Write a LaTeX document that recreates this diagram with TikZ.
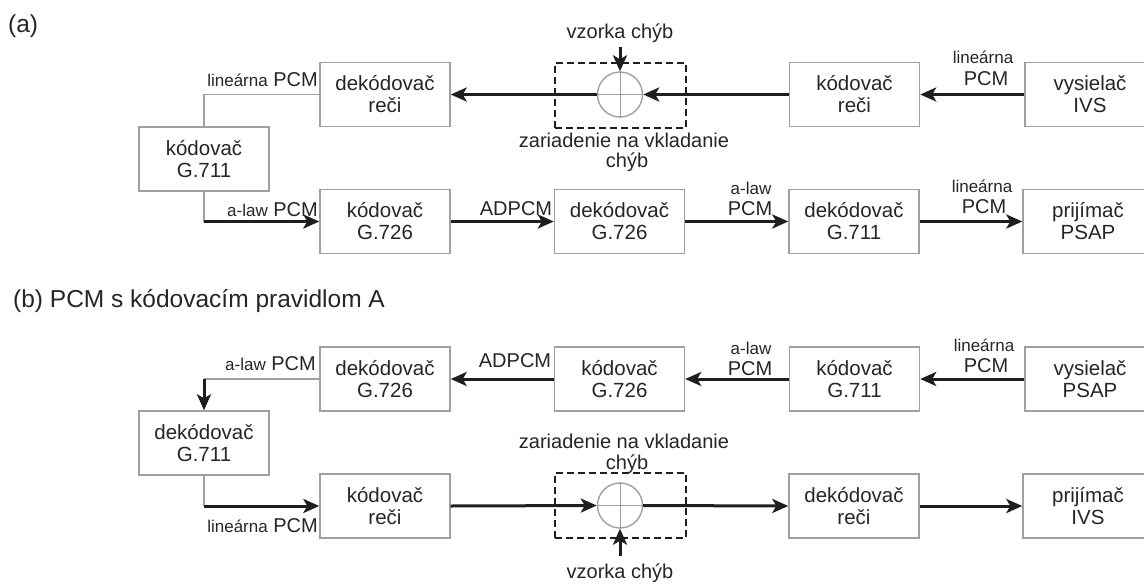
\documentclass[tikz,border=0pt]{standalone}
\usepackage{fontspec}
\setmainfont{Liberation Sans}
\usetikzlibrary{arrows.meta}
\definecolor{txt}{HTML}{262626}
\definecolor{bord}{HTML}{A0A0A0}
\definecolor{ink}{HTML}{1E1E1E}
\begin{document}
\begin{tikzpicture}[x=1pt,y=-1pt,
 blk/.style={draw=bord, line width=1.4pt, minimum width=130pt, minimum height=64pt, align=center, inner sep=0pt, font=\fontsize{20.5}{22}\selectfont, text=txt},
 flow/.style={line width=3pt, draw=ink, -{Stealth[length=16pt,width=14pt,inset=4pt]}},
 wire/.style={draw=bord, line width=1.4pt},
 sl/.style={font=\fontsize{17}{19}\selectfont, text=txt, inner sep=0pt, anchor=base},
 bl/.style={font=\fontsize{20}{21}\selectfont, text=txt, inner sep=0pt, anchor=base},
 capt/.style={font=\fontsize{24.5}{27}\selectfont, text=txt, inner sep=0pt, anchor=base west},
 summ/.style={circle, draw=bord, line width=1.4pt, minimum size=45pt, inner sep=0pt},
 errbox/.style={draw=ink, dash pattern=on 7pt off 4pt, line width=2.2pt, minimum width=131pt, minimum height=65pt, inner sep=0pt},
]
\useasboundingbox (0,0) rectangle (1144,584);
\clip (0,0) rectangle (1144,584);
\fill[white] (0,0) rectangle (1144,584);

% ---------- (a) ----------
\node[capt] (capa) at (8,32) {(a)};
\node[blk] (dekR1) at (385,94.5) {dekódovač\\reči};
\node[blk] (kodR1) at (854.5,94.5) {kódovač\\reči};
\node[blk] (vysIVS) at (1090,94.5) {vysielač\\IVS};
\node[blk] (G711a) at (204,159) {kódovač\\G.711};
\node[blk] (kodG726) at (385,221.5) {kódovač\\G.726};
\node[blk] (dekG726) at (619.5,221.5) {dekódovač\\G.726};
\node[blk] (dekG711) at (854,221.5) {dekódovač\\G.711};
\node[blk] (prijPSAP) at (1088,221.5) {prijímač\\PSAP};
\node[errbox] (err1) at (620.5,95.5) {};
\node[summ] (circ1) at (620,94.5) {};
\draw[wire, line width=0.9pt] (circ1.north) -- (circ1.south) (circ1.west) -- (circ1.east);
\node[bl] (vz1) at (620,38) {vzorka chýb};
\node[bl] (zar1) at (624,147) {zariadenie na vkladanie};
\node[bl] (zar1b) at (627,167) {chýb};

\draw[flow] (vysIVS.west) -- (kodR1.east);
\draw[flow] (kodR1.west) -- (circ1.east);
\draw[flow] (circ1.west) -- (dekR1.east);
\draw[flow, shorten <=5pt] (vz1.south) -- (circ1.north);
\draw[wire] (dekR1.west) -| (G711a.north);
\coordinate (ja) at (G711a.south |- kodG726.west);
\draw[wire] (G711a.south) -- (ja);
\draw[flow] (ja) -- (kodG726.west);
\draw[flow] (kodG726.east) -- (dekG726.west);
\draw[flow] (dekG726.east) -- (dekG711.west);
\draw[flow] (dekG711.east) -- (prijPSAP.west);

\node[bl, anchor=base east] (la1) at (318,86) {{\fontsize{17}{19}\selectfont lineárna} PCM};
\node[bl, anchor=base east] (la2) at (318,216) {{\fontsize{17}{19}\selectfont a-law} PCM};
\node[bl] (la3) at (516,215) {ADPCM};
\node[sl] (la4) at (751,194) {a-law};
\node[bl] (la5) at (750,215) {PCM};
\node[sl] (la6) at (982,192) {lineárna};
\node[bl] (la7) at (984,213) {PCM};
\node[sl] (la8) at (983,63) {lineárna};
\node[bl] (la9) at (986,85) {PCM};

% ---------- (b) ----------
\node[capt] (capb) at (13,307) {(b) PCM s kódovacím pravidlom A};
\node[blk] (dekG726b) at (385,379) {dekódovač\\G.726};
\node[blk] (kodG726b) at (619.5,379) {kódovač\\G.726};
\node[blk] (kodG711b) at (854.5,379) {kódovač\\G.711};
\node[blk] (vysPSAP) at (1090,379) {vysielač\\PSAP};
\node[blk] (dekG711b) at (204,443) {dekódovač\\G.711};
\node[blk] (kodRb) at (385,506) {kódovač\\reči};
\node[blk] (dekRb) at (854,506) {dekódovač\\reči};
\node[blk] (prijIVS) at (1088,506) {prijímač\\IVS};
\node[errbox] (err2) at (620.5,505.5) {};
\node[summ] (circ2) at (620,505.5) {};
\draw[wire, line width=0.9pt] (circ2.north) -- (circ2.south) (circ2.west) -- (circ2.east);
\node[bl] (zar2) at (624,448) {zariadenie na vkladanie};
\node[bl] (zar2b) at (627,469) {chýb};
\node[bl] (vz2) at (620,578) {vzorka chýb};

\draw[flow] (vysPSAP.west) -- (kodG711b.east);
\draw[flow] (kodG711b.west) -- (kodG726b.east);
\draw[flow] (kodG726b.west) -- (dekG726b.east);
\coordinate (jb) at (dekG711b.north |- dekG726b.west);
\draw[wire] (dekG726b.west) -- (jb);
\draw[flow] (jb) -- (dekG711b.north);
\coordinate (kb) at (dekG711b.south |- kodRb.west);
\draw[wire] (dekG711b.south) -- (kb);
\draw[flow] (kb) -- (kodRb.west);
\draw[flow] (kodRb.east) -- (circ2.west);
\draw[flow] (circ2.east) -- (dekRb.west);
\draw[flow] (dekRb.east) -- (prijIVS.west);
\draw[flow, shorten <=7pt] (vz2.north) -- (circ2.south);

\node[sl] (lb1) at (984,351) {lineárna};
\node[bl] (lb2) at (986,372) {PCM};
\node[sl] (lb3) at (751,354) {a-law};
\node[bl] (lb4) at (750,375) {PCM};
\node[bl] (lb5) at (515,367) {ADPCM};
\node[bl, anchor=base east] (lb6) at (316,370) {{\fontsize{17}{19}\selectfont a-law} PCM};
\node[bl, anchor=base east] (lb7) at (318,532) {{\fontsize{17}{19}\selectfont lineárna} PCM};
\end{tikzpicture}
\end{document}
